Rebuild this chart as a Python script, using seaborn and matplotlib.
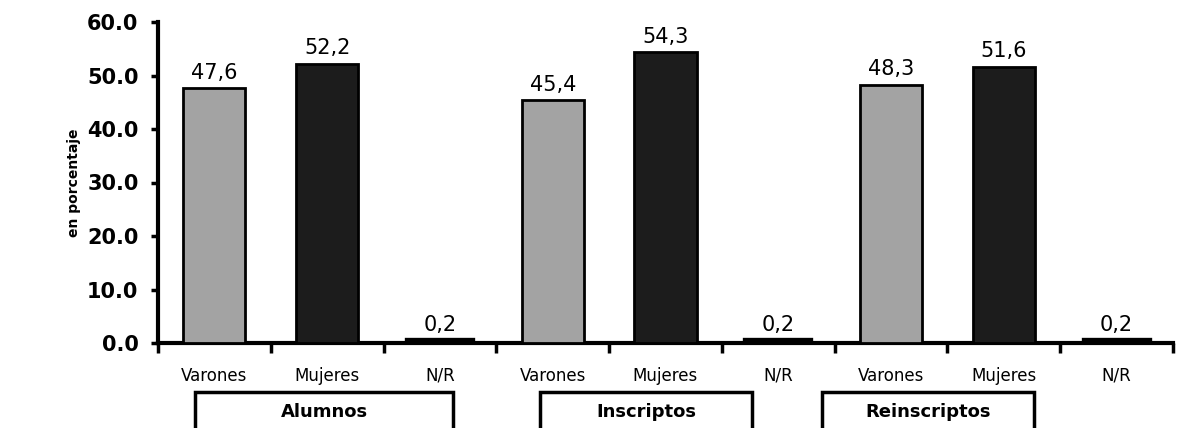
import matplotlib
matplotlib.use("Agg")
import matplotlib.pyplot as plt
import matplotlib.transforms as mtransforms
from matplotlib.patches import Rectangle
import seaborn as sns
import pandas as pd
import numpy as np

# ---- data ----
groups = ["Alumnos", "Inscriptos", "Reinscriptos"]
sexes = ["Varones", "Mujeres", "N/R"]
alumnos = [47.6, 52.2, 0.2]
inscriptos = [45.4, 54.3, 0.2]
reinscriptos = [48.3, 51.6, 0.2]
y_ticks = [0, 10, 20, 30, 40, 50, 60]

values = [alumnos, inscriptos, reinscriptos]
rows = []
for g, vals in zip(groups, values):
    for s, v in zip(sexes, vals):
        rows.append({"key": f"{g}-{s}", "grupo": g, "sexo": s, "valor": v})
df = pd.DataFrame(rows)
order = list(df["key"])

sns.set_theme(style="white")
plt.rcParams["font.family"] = ["DejaVu Sans"]
plt.rcParams["text.color"] = "black"
plt.rcParams["xtick.color"] = "black"
plt.rcParams["ytick.color"] = "black"
plt.rcParams["axes.labelcolor"] = "black"

fig = plt.figure(figsize=(11.81, 4.28), dpi=100)
ax = fig.add_axes([158/1181, 1-343/428, (1173-158)/1181, (343-22)/428])

palette = {"Varones": "#a3a3a3", "Mujeres": "#1c1c1c", "N/R": "#000000"}
sns.barplot(data=df, x="key", y="valor", hue="sexo", order=order,
            hue_order=sexes, palette=palette, dodge=False, width=0.55,
            edgecolor="black", linewidth=2, saturation=1, ax=ax, legend=False)

for p in ax.patches:
    h = p.get_height()
    if np.isnan(h):
        continue
    p.set_zorder(3)
    if h < 1:
        p.set_linewidth(6)
    ax.annotate(f"{h:.1f}".replace(".", ","),
                (p.get_x() + p.get_width()/2, h),
                xytext=(0, 5 if h < 1 else 4), textcoords="offset points",
                ha="center", va="bottom", fontsize=15, color="black")

ax.set_xlim(-0.5, len(order) - 0.5)
ax.set_ylim(0, 60)
ax.set_yticks(y_ticks)
ax.set_yticklabels([f"{t:.1f}" for t in y_ticks], fontsize=15, fontweight="bold")
ax.set_xticks(range(len(order)))
ax.set_xticklabels([s for g in groups for s in sexes], fontsize=12)
ax.set_xticks(np.arange(-0.5, len(order), 1.0), minor=True)
ax.tick_params(axis="x", which="major", length=0, pad=17, bottom=True)
ax.tick_params(axis="x", which="minor", length=7, width=2.5, direction="out",
               color="black", bottom=True)
ax.tick_params(axis="y", which="major", length=5, width=2.5, direction="out",
               color="black", pad=9, left=True)
ax.set_xlabel("")
ax.set_ylabel("en porcentaje", fontsize=10, fontweight="bold", labelpad=4)

for side in ["top", "right"]:
    ax.spines[side].set_visible(False)
for side in ["left", "bottom"]:
    ax.spines[side].set_linewidth(3)
    ax.spines[side].set_color("black")

# group boxes below the axis
trans = mtransforms.blended_transform_factory(ax.transData, fig.transFigure)
box_spans = [(-0.17, 2.12), (2.89, 4.77), (5.39, 7.27)]
for g, (x0, x1) in zip(groups, box_spans):
    rect = Rectangle((x0, -0.1), x1 - x0, 0.1 + 1 - 392/428, transform=trans,
                     fill=False, edgecolor="black", linewidth=2.5, clip_on=False)
    fig.add_artist(rect)
    fig.text((x0 + x1) / 2, 1 - 412/428, g, transform=trans, ha="center", va="center",
             fontsize=13, fontweight="bold")

fig.savefig("out.png", dpi=100)
